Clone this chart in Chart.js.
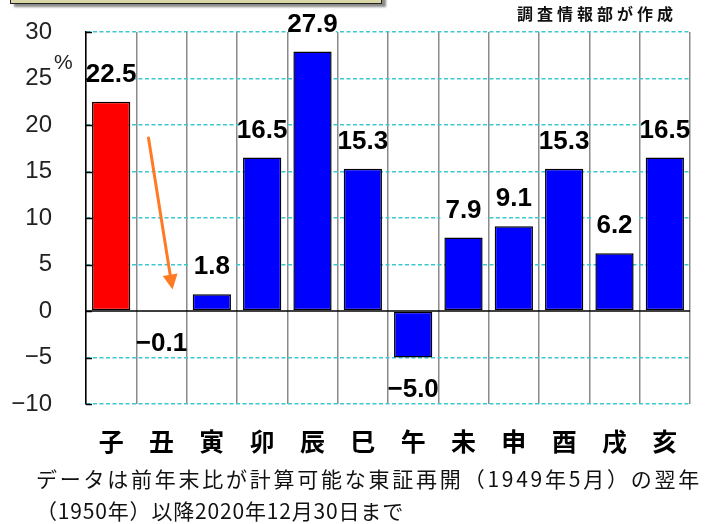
<!DOCTYPE html>
<html>
<head>
<meta charset="utf-8">
<script src="https://cdn.jsdelivr.net/npm/chart.js@4/dist/chart.umd.min.js"></script>
<style>
  html,body{margin:0;padding:0;background:#fff;}
  #wrap{position:relative;width:712px;height:524px;overflow:hidden;background:#fff;}
  #c{position:absolute;left:0;top:0;}
  .t{position:absolute;white-space:nowrap;line-height:1;}
  #titlebox{position:absolute;left:10px;top:-40px;width:370px;height:42px;background:#DAD8A6;border:1.5px solid #222;box-shadow:4px 3px 2px #8a8a8a;}
  #credit{left:517px;top:1px;font:600 16px "Noto Sans CJK JP",sans-serif;color:#111;}
  #pct{left:54px;top:50px;font:21px "Liberation Sans",Arial,sans-serif;color:#222;}
  .note{left:36px;font:21px "Noto Sans CJK JP",sans-serif;color:#111;}
  #note1{top:463px;}
  #note2{top:495px;}
</style>
</head>
<body>
<div id="wrap">
  <canvas id="c" width="712" height="524"></canvas>
  <div id="titlebox"></div>
  <div class="t" id="credit" data-w="160">調査情報部が作成</div>
  <div class="t" id="pct">%</div>
  <div class="t note" id="note1" data-w="666">データは前年末比が計算可能な東証再開（1949年5月）の翌年</div>
  <div class="t note" id="note2" data-w="368">（1950年）以降2020年12月30日まで</div>
</div>
<script>
const categories = ['子','丑','寅','卯','辰','巳','午','未','申','酉','戌','亥'];
const returns = [22.5, -0.1, 1.8, 16.5, 27.9, 15.3, -5.0, 7.9, 9.1, 15.3, 6.2, 16.5];
const barColors = ['#FF0000','#0000FF','#0000FF','#0000FF','#0000FF','#0000FF','#0000FF','#0000FF','#0000FF','#0000FF','#0000FF','#0000FF'];
const yTicks = [30, 25, 20, 15, 10, 5, 0, -5, -10];

// fit text widths
document.querySelectorAll('[data-w]').forEach(el => {
  const target = +el.dataset.w;
  const w = el.getBoundingClientRect().width;
  const n = [...el.textContent].length;
  el.style.letterSpacing = ((target - w) / n) + 'px';
});

const minus = s => String(s).replace('-', '\u2212');

const overlay = {
  id: 'overlay',
  afterDatasetsDraw(chart) {
    const {ctx, chartArea: ca, scales: {x, y}} = chart;
    ctx.save();
    ctx.setLineDash([]);
    // zero line
    const y0 = y.getPixelForValue(0);
    ctx.strokeStyle = '#000';
    ctx.lineWidth = 1.5;
    ctx.beginPath(); ctx.moveTo(ca.left, y0); ctx.lineTo(ca.right, y0); ctx.stroke();
    // inner tick marks
    y.ticks.forEach(t => {
      const py = Math.round(y.getPixelForValue(t.value)) + 0.5;
      ctx.beginPath(); ctx.moveTo(ca.left, py); ctx.lineTo(ca.left + 6, py); ctx.stroke();
    });
    // value labels
    const meta = chart.getDatasetMeta(0);
    const catW = x.width / categories.length;
    ctx.font = 'bold 26px "Liberation Sans", Arial, sans-serif';
    ctx.textAlign = 'center';
    ctx.textBaseline = 'alphabetic';
    meta.data.forEach((bar, i) => {
      const v = returns[i];
      const txt = minus(v.toFixed(1));
      const baseline = v >= 0 ? bar.y - 20 : bar.y + 39;
      const top = baseline - 19;
      ctx.fillStyle = '#fff';
      ctx.fillRect(bar.x - catW / 2 + 2, top - 3, catW - 4, 25);
      ctx.fillStyle = '#000';
      ctx.fillText(txt, bar.x, baseline);
    });
    // orange arrow
    const cx = x.getPixelForValue(1);
    const sx = cx - 13, sy = y.getPixelForValue(18.6);
    const tx = cx + 11, ty = y.getPixelForValue(2.3);
    const ang = Math.atan2(ty - sy, tx - sx);
    const hl = 15, hw = 7.5;
    const bx = tx - hl * Math.cos(ang), by = ty - hl * Math.sin(ang);
    ctx.strokeStyle = '#FF7A22';
    ctx.fillStyle = '#FF7A22';
    ctx.lineWidth = 3;
    ctx.lineCap = 'round';
    ctx.beginPath(); ctx.moveTo(sx, sy); ctx.lineTo(bx, by); ctx.stroke();
    ctx.beginPath();
    ctx.moveTo(tx, ty);
    ctx.lineTo(bx + hw * Math.sin(ang), by - hw * Math.cos(ang));
    ctx.lineTo(bx - hw * Math.sin(ang), by + hw * Math.cos(ang));
    ctx.closePath(); ctx.fill();
    ctx.restore();
  }
};

new Chart(document.getElementById('c'), {
  type: 'bar',
  data: {
    labels: categories,
    datasets: [{
      data: returns,
      backgroundColor: barColors,
      borderColor: '#000',
      borderWidth: 1.5,
      borderSkipped: false,
      barPercentage: 0.76,
      categoryPercentage: 1.0
    }]
  },
  options: {
    responsive: false,
    devicePixelRatio: 1,
    animation: false,
    events: [],
    layout: {padding: {left: 0, right: 22, top: 32, bottom: 0}},
    plugins: {legend: {display: false}, tooltip: {enabled: false}},
    scales: {
      x: {
        offset: true,
        grid: {offset: true, color: '#8a8a8a', lineWidth: 1.5, drawTicks: false},
        border: {display: false},
        ticks: {
          padding: 22,
          color: '#000',
          font: {family: '"Noto Sans CJK JP", sans-serif', size: 25, weight: 'bold'},
          maxRotation: 0, autoSkip: false
        },
        afterFit: s => { s.height = 120; s.paddingLeft = 0; s.paddingRight = 0; }
      },
      y: {
        min: -10, max: 30,
        afterBuildTicks: s => { s.ticks = yTicks.map(v => ({value: v})); },
        grid: {
          color: c => (c.tick && c.tick.value === 0) ? 'rgba(0,0,0,0)' : '#3CC8D0',
          lineWidth: 1.5,
          drawTicks: false
        },
        border: {display: true, color: '#000', width: 1.5, dash: [4, 2.5]},
        ticks: {
          padding: 34,
          color: '#222',
          font: {family: '"Liberation Sans", Arial, sans-serif', size: 24},
          callback: v => minus(v)
        },
        afterFit: s => { s.width = 86; s.paddingTop = 0; s.paddingBottom = 0; }
      }
    }
  },
  plugins: [overlay]
});
</script>
</body>
</html>
